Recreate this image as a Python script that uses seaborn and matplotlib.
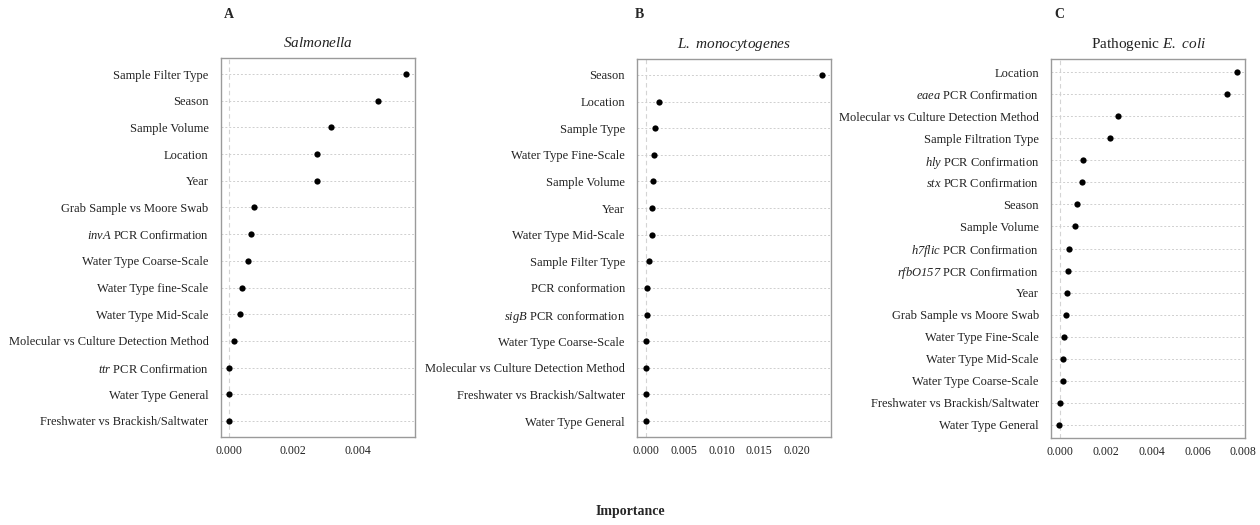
import matplotlib
matplotlib.use("Agg")
import matplotlib.pyplot as plt
import seaborn as sns
import pandas as pd

# --- data (top row first) ---
salm_features = [
    "Sample Filter Type", "Season", "Sample Volume", "Location", "Year",
    "Grab Sample vs Moore Swab", r"$\mathit{invA}$ PCR Confirmation",
    "Water Type Coarse-Scale", "Water Type fine-Scale", "Water Type Mid-Scale",
    "Molecular vs Culture Detection Method", r"$\mathit{ttr}$ PCR Confirmation",
    "Water Type General", "Freshwater vs Brackish/Saltwater",
]
salm_importance = [0.00551, 0.00465, 0.00318, 0.00275, 0.00273, 0.00077, 0.00069,
                   0.00058, 0.00040, 0.00034, 0.00016, -0.00001, 0.0, -0.00001]

listeria_features = [
    "Season", "Location", "Sample Type", "Water Type Fine-Scale", "Sample Volume",
    "Year", "Water Type Mid-Scale", "Sample Filter Type", "PCR conformation",
    r"$\mathit{sigB}$ PCR conformation", "Water Type Coarse-Scale",
    "Molecular vs Culture Detection Method", "Freshwater vs Brackish/Saltwater",
    "Water Type General",
]
listeria_importance = [0.02326, 0.00175, 0.00123, 0.00110, 0.00092, 0.00083, 0.00083,
                       0.00044, 0.00017, 0.00013, 0.00010, 0.00005, 0.00003, 0.00003]

ecoli_features = [
    "Location", r"$\mathit{eaea}$ PCR Confirmation", "Molecular vs Culture Detection Method",
    "Sample Filtration Type", r"$\mathit{hly}$ PCR Confirmation",
    r"$\mathit{stx}$ PCR Confirmation", "Season", "Sample Volume",
    r"$\mathit{h7flic}$ PCR Confirmation", r"$\mathit{rfbO157}$ PCR Confirmation",
    "Year", "Grab Sample vs Moore Swab", "Water Type Fine-Scale",
    "Water Type Mid-Scale", "Water Type Coarse-Scale",
    "Freshwater vs Brackish/Saltwater", "Water Type General",
]
ecoli_importance = [0.00772, 0.00731, 0.00253, 0.00219, 0.00102, 0.00098, 0.00075,
                    0.00067, 0.00039, 0.00034, 0.00031, 0.00025, 0.00019, 0.00015,
                    0.00013, -0.00001, -0.00003]

sns.set_style("white")
plt.rcParams["font.family"] = ["Liberation Serif", "DejaVu Serif"]
# math segments are only used for italic gene names, so keep digits italic too
plt.rcParams["mathtext.fontset"] = "custom"
plt.rcParams["mathtext.rm"] = "Liberation Serif:italic"
plt.rcParams["mathtext.it"] = "Liberation Serif:italic"

fig = plt.figure(figsize=(12.6, 5.25), dpi=100)

panels = [
    # letter, title, features, values, axes rect, xlim, xticks, letter x
    ("A", r"$\mathit{Salmonella}$", salm_features, salm_importance,
     [0.1754, 0.1676, 0.1540, 0.7219], (-0.00026, 0.0058), [0, 0.002, 0.004], 229),
    ("B", r"$\mathit{L.}$ $\mathit{monocytogenes}$", listeria_features, listeria_importance,
     [0.5058, 0.1676, 0.1537, 0.7200], (-0.0011, 0.02445), [0, 0.005, 0.01, 0.015, 0.02], 639),
    ("C", r"Pathogenic $\mathit{E.}$ $\mathit{coli}$", ecoli_features, ecoli_importance,
     [0.8344, 0.1657, 0.1537, 0.7219], (-0.00038, 0.00808), [0, 0.002, 0.004, 0.006, 0.008], 1059),
]

for letter, title, feats, vals, rect, xlim, xticks, lx in panels:
    ax = fig.add_axes(rect)
    df = pd.DataFrame({"feature": feats, "importance": vals})
    ax.axvline(0, color="#d4d4d4", lw=0.8, ls=(0, (4, 3)), zorder=0)
    sns.stripplot(data=df, x="importance", y="feature", jitter=False,
                  color="black", size=4.5, linewidth=0, ax=ax, zorder=3)
    n = len(feats)
    ax.set_ylim(n - 1 + 0.6, -0.6)
    ax.set_xlim(*xlim)
    ax.set_xticks(xticks)
    ax.set_xticklabels([f"{t:.3f}" for t in xticks])
    ax.grid(axis="y", color="#cfcfcf", lw=0.7, ls=(0, (2, 2)))
    ax.grid(axis="x", visible=False)
    ax.set_xlabel("")
    ax.set_ylabel("")
    ax.tick_params(axis="both", length=3, width=0.8, color="#444444",
                   labelcolor="#222222")
    ax.tick_params(axis="y", labelsize=9.0, pad=6)
    ax.tick_params(axis="x", labelsize=8.5, pad=3)
    for s in ax.spines.values():
        s.set_color("#9a9a9a")
        s.set_linewidth(1.0)
    ax.set_title(title, fontsize=11, color="#222222", pad=8)
    fig.text(lx / 1260, 1 - 14 / 525, letter, fontsize=10, fontweight="bold",
             ha="center", va="center")

fig.text(630 / 1260, 1 - 512 / 525, "Importance", fontsize=10, fontweight="bold",
         ha="center", va="center")

fig.savefig("out.png", dpi=100)
